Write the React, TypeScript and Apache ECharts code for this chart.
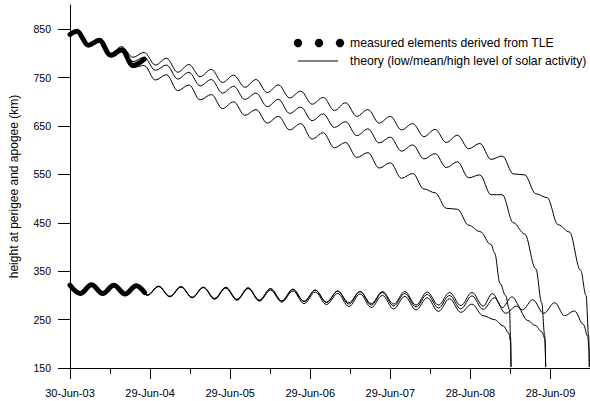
import React, { useEffect, useRef } from "react";
import * as echarts from "echarts";

// x values are days since 30-Jun-03
const xTickDays = [0, 365, 730, 1095, 1460, 1825, 2190];
const xTickLabels = ["30-Jun-03", "29-Jun-04", "29-Jun-05", "29-Jun-06", "29-Jun-07", "28-Jun-08", "28-Jun-09"];
const xMinorTickDays = [182.5, 547.5, 912.5, 1277.5, 1642.5, 2007.5];
const yTicks = [150, 250, 350, 450, 550, 650, 750, 850];

const measuredApogeeDays = [0, 32, 83, 134, 185, 236, 287, 338];
const measuredApogee = [839, 846, 817, 827, 796, 807, 775, 788];
const measuredPerigeeDays = [0, 47, 98, 149, 200, 251, 302, 340];
const measuredPerigee = [321, 304, 322, 304, 321, 303, 320, 306];

const lowApogeeDays = [0, 32, 83, 134, 185, 236, 287, 338, 389, 440, 491, 542, 593, 644, 695, 746, 797, 848, 899, 950, 1001, 1052, 1103, 1154, 1205, 1256, 1307, 1358, 1409, 1460, 1511, 1562, 1613, 1664, 1715, 1766, 1817, 1868, 1919, 1970, 2021, 2072, 2123, 2174, 2225, 2276, 2327, 2352, 2364, 2367];
const lowApogee = [839, 846, 818, 829, 800, 814, 792, 802, 776, 790, 761, 777, 752, 767, 740, 755, 730, 746, 719, 735, 708, 722, 695, 709, 682, 698, 670, 684, 656, 670, 642, 655, 628, 643, 616, 631, 603, 614, 581, 588, 551, 549, 510, 502, 446, 431, 352, 300, 215, 152];

const meanApogeeDays = [0, 32, 83, 134, 185, 236, 287, 338, 389, 440, 491, 542, 593, 644, 695, 746, 797, 848, 899, 950, 1001, 1052, 1103, 1154, 1205, 1256, 1307, 1358, 1409, 1460, 1511, 1562, 1613, 1664, 1715, 1766, 1817, 1868, 1919, 1970, 2021, 2072, 2123, 2150, 2163, 2168];
const meanApogee = [839, 846, 817, 828, 798, 811, 783, 792, 765, 776, 747, 761, 733, 746, 718, 732, 705, 718, 690, 705, 676, 689, 661, 675, 647, 659, 630, 644, 615, 627, 598, 611, 582, 593, 564, 576, 543, 549, 508, 508, 450, 427, 355, 285, 220, 152];

const highApogeeDays = [0, 32, 83, 134, 185, 236, 287, 338, 389, 440, 491, 542, 593, 644, 695, 746, 797, 848, 899, 950, 1001, 1052, 1103, 1154, 1205, 1256, 1307, 1358, 1409, 1460, 1511, 1562, 1613, 1664, 1715, 1766, 1817, 1868, 1919, 1935, 1960, 1985, 2003, 2008, 2010];
const highApogee = [839, 846, 817, 827, 796, 806, 771, 775, 745, 756, 723, 735, 704, 715, 686, 700, 672, 684, 656, 670, 642, 655, 623, 636, 605, 616, 585, 595, 563, 574, 542, 552, 520, 512, 480, 478, 445, 432, 405, 388, 325, 300, 270, 215, 152];

const lowPerigeeDays = [0, 47, 98, 149, 200, 251, 302, 353, 404, 455, 506, 557, 608, 659, 710, 761, 812, 863, 914, 965, 1016, 1067, 1118, 1169, 1220, 1271, 1322, 1373, 1424, 1475, 1526, 1577, 1628, 1679, 1730, 1781, 1832, 1883, 1925, 1970, 2014, 2062, 2109, 2159, 2209, 2254, 2299, 2340, 2360, 2365, 2367];
const lowPerigee = [321, 304, 322, 304, 321, 304, 321, 301, 319, 298, 318, 296, 317, 293, 316, 291, 315, 290, 314, 289, 313, 288, 311, 286, 309, 285, 308, 283, 308, 282, 308, 280, 307, 280, 306, 279, 306, 278, 304, 275, 297, 270, 291, 263, 285, 258, 268, 240, 215, 190, 152];

const meanPerigeeDays = [0, 47, 98, 149, 200, 251, 302, 353, 404, 455, 506, 557, 608, 659, 710, 761, 812, 863, 914, 965, 1016, 1067, 1118, 1169, 1220, 1271, 1322, 1373, 1424, 1475, 1526, 1577, 1628, 1679, 1730, 1781, 1832, 1883, 1934, 1985, 2036, 2087, 2120, 2150, 2165, 2168];
const meanPerigee = [321, 304, 322, 304, 321, 304, 321, 301, 319, 298, 318, 296, 317, 294, 317, 292, 316, 290, 314, 288, 312, 287, 311, 285, 309, 282, 308, 280, 306, 278, 304, 276, 302, 274, 300, 272, 299, 271, 295, 263, 278, 248, 238, 225, 210, 152];

const highPerigeeDays = [0, 47, 98, 149, 200, 251, 302, 353, 404, 455, 506, 557, 608, 659, 710, 761, 812, 863, 914, 965, 1016, 1067, 1118, 1169, 1220, 1271, 1322, 1373, 1424, 1475, 1526, 1577, 1628, 1679, 1730, 1781, 1832, 1883, 1934, 1975, 2000, 2008, 2010];
const highPerigee = [321, 304, 322, 304, 321, 303, 320, 300, 318, 297, 317, 295, 316, 292, 315, 290, 314, 288, 311, 286, 309, 283, 307, 281, 304, 277, 303, 275, 300, 272, 298, 270, 295, 267, 293, 265, 282, 258, 250, 237, 222, 205, 152];

const legendMeasured = "measured elements derived from TLE";
const legendTheory = "theory (low/mean/high level of solar activity)";
const yAxisName = "height at perigee and apogee (km)";

const FONT = "'Liberation Sans', Arial, Helvetica, sans-serif";

const pairs = (d: number[], v: number[]) => d.map((x, i) => [x, v[i]]);

const theorySeries = (d: number[], v: number[]) => ({
  type: "line",
  data: pairs(d, v),
  smooth: 0.36,
  smoothMonotone: "x",
  symbol: "none",
  lineStyle: { color: "#000", width: 1 },
  z: 2,
  silent: true,
});

const measuredSeries = (d: number[], v: number[]) => ({
  type: "line",
  data: pairs(d, v),
  smooth: 0.36,
  smoothMonotone: "x",
  symbol: "none",
  lineStyle: { color: "#000", width: 5, cap: "round", join: "round" },
  z: 3,
  silent: true,
});

export default function App() {
  const ref = useRef<HTMLDivElement>(null);
  useEffect(() => {
    if (!ref.current) return;
    const chart = echarts.init(ref.current, undefined, { renderer: "svg" });
    const axisLine = { show: true, onZero: false, lineStyle: { color: "#000", width: 1 } };
    chart.setOption({
      animation: false,
      backgroundColor: "#fff",
      grid: { left: 68, right: 0, top: 5, bottom: 33 },
      xAxis: [
        {
          type: "value",
          min: 0,
          max: 2370,
          position: "bottom",
          axisLine,
          axisTick: { show: true, length: 11, customValues: xTickDays, lineStyle: { color: "#000", width: 1 } },
          axisLabel: {
            customValues: xTickDays,
            formatter: (v: number) => {
              const i = xTickDays.indexOf(v);
              return i >= 0 ? xTickLabels[i] : "";
            },
            margin: 19,
            color: "#000",
            fontSize: 11,
            fontFamily: FONT,
          },
          splitLine: { show: false },
        },
        {
          type: "value",
          min: 0,
          max: 2370,
          position: "bottom",
          axisLine: { show: false, onZero: false },
          axisTick: { show: true, length: 6, customValues: xMinorTickDays, lineStyle: { color: "#000", width: 1 } },
          axisLabel: { show: false },
          splitLine: { show: false },
        },
      ],
      yAxis: {
        type: "value",
        min: 150,
        max: 900,
        axisLine,
        axisTick: { show: true, length: 12, customValues: yTicks, lineStyle: { color: "#000", width: 1 } },
        axisLabel: {
          customValues: yTicks,
          formatter: (v: number) => (yTicks.indexOf(v) >= 0 ? String(v) : ""),
          margin: 19,
          color: "#000",
          fontSize: 10.5,
          fontFamily: FONT,
        },
        splitLine: { show: false },
        name: yAxisName,
        nameLocation: "middle",
        nameRotate: 90,
        nameGap: 50,
        nameTextStyle: { color: "#000", fontSize: 12, fontFamily: FONT },
      },
      graphic: [
        { type: "circle", shape: { cx: 298, cy: 43, r: 4.2 }, style: { fill: "#000" } },
        { type: "circle", shape: { cx: 319, cy: 43, r: 4.2 }, style: { fill: "#000" } },
        { type: "circle", shape: { cx: 340, cy: 43, r: 4.2 }, style: { fill: "#000" } },
        { type: "line", shape: { x1: 298, y1: 61, x2: 338, y2: 61 }, style: { stroke: "#000", lineWidth: 1 } },
        {
          type: "text",
          x: 350,
          y: 43,
          style: { text: legendMeasured, fill: "#000", fontSize: 12.2, fontFamily: FONT, verticalAlign: "middle", align: "left" },
        },
        {
          type: "text",
          x: 350,
          y: 61,
          style: { text: legendTheory, fill: "#000", fontSize: 12.2, fontFamily: FONT, verticalAlign: "middle", align: "left" },
        },
      ],
      series: [
        theorySeries(lowApogeeDays, lowApogee),
        theorySeries(meanApogeeDays, meanApogee),
        theorySeries(highApogeeDays, highApogee),
        theorySeries(lowPerigeeDays, lowPerigee),
        theorySeries(meanPerigeeDays, meanPerigee),
        theorySeries(highPerigeeDays, highPerigee),
        measuredSeries(measuredApogeeDays, measuredApogee),
        measuredSeries(measuredPerigeeDays, measuredPerigee),
      ],
    });
    return () => chart.dispose();
  }, []);
  return (
    <div
      ref={ref}
      style={{ position: "fixed", left: 0, top: 0, width: 590, height: 401, background: "#fff" }}
    />
  );
}
